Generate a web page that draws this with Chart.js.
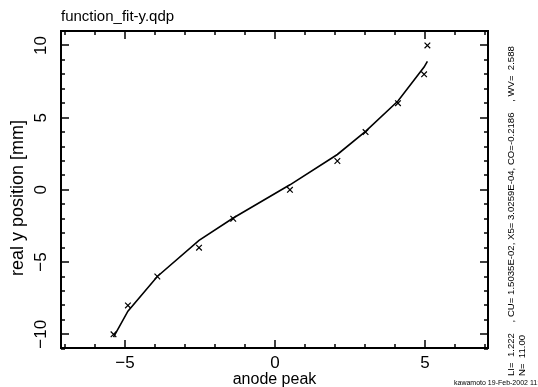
<!DOCTYPE html>
<html>
<head>
<meta charset="utf-8">
<script src="https://cdn.jsdelivr.net/npm/chart.js@4"></script>
<style>
  html, body { margin: 0; padding: 0; background: #fff; }
  #wrap { width: 538px; height: 387px; position: relative; }
</style>
</head>
<body>
<div id="wrap"><canvas id="fitChart"></canvas></div>
<script>
// measured points (x = anode peak, y = real y position)
const anodePeak = [-5.38, -4.9, -3.92, -2.53, -1.39, 0.5, 2.08, 3.02, 4.1, 4.97, 5.08];
const realY = [-10, -8, -6, -4, -2, 0, 2, 4, 6, 8, 10];
// fitted model at the same x values
const modelY = [-10.2, -8.4, -6.0, -3.5, -1.95, 0.35, 2.45, 4.05, 6.15, 8.5, 8.9];

const xMajor = [-5, 0, 5];
const yMajor = [-10, -5, 0, 5, 10];
const xMinor = [-7, -6, -4, -3, -2, -1, 1, 2, 3, 4, 6, 7];
const yMinor = [-11, -9, -8, -7, -6, -4, -3, -2, -1, 1, 2, 3, 4, 6, 7, 8, 9, 11];

const titleText = 'function_fit-y.qdp';
const xTitle = 'anode peak';
const yTitle = 'real y position [mm]';
const fitText = 'LI=  1.222    , CU= 1.5035E-02, X5= 3.0259E-04, CO=-0.2186    , WV=  2.588';
const nText = 'N=  11.00';
const stampText = 'kawamoto 19-Feb-2002 11:3';

const FONT = '"Liberation Sans", "DejaVu Sans", sans-serif';

const qdpFrame = {
    id: 'qdpFrame',
    afterDatasetsDraw(chart) {
        const { ctx, chartArea: a, scales } = chart;
        const xs = scales.x, ys = scales.y;
        ctx.save();
        ctx.strokeStyle = '#000';
        ctx.fillStyle = '#000';

        // frame
        ctx.lineWidth = 2;
        ctx.strokeRect(a.left, a.top, a.right - a.left, a.bottom - a.top);

        // ticks, inward on all sides
        ctx.lineWidth = 1.5;
        const tickX = (vals, len) => vals.forEach(v => {
            const px = Math.round(xs.getPixelForValue(v));
            ctx.beginPath();
            ctx.moveTo(px, a.bottom); ctx.lineTo(px, a.bottom - len);
            ctx.moveTo(px, a.top); ctx.lineTo(px, a.top + len);
            ctx.stroke();
        });
        const tickY = (vals, len) => vals.forEach(v => {
            const py = Math.round(ys.getPixelForValue(v));
            ctx.beginPath();
            ctx.moveTo(a.left, py); ctx.lineTo(a.left + len, py);
            ctx.moveTo(a.right, py); ctx.lineTo(a.right - len, py);
            ctx.stroke();
        });
        tickX(xMajor, 8); tickX(xMinor, 4);
        tickY(yMajor, 8); tickY(yMinor, 4);

        // x tick labels
        ctx.font = '17px ' + FONT;
        ctx.textAlign = 'center';
        ctx.textBaseline = 'middle';
        xMajor.forEach(v => {
            const lbl = v < 0 ? '\u2212' + Math.abs(v) : String(v);
            ctx.fillText(lbl, xs.getPixelForValue(v), 363);
        });
        ctx.font = '16px ' + FONT;
        ctx.fillText(xTitle, (a.left + a.right) / 2, 380);

        // y tick labels, rotated
        ctx.font = '17px ' + FONT;
        yMajor.forEach(v => {
            const lbl = v < 0 ? '\u2212' + Math.abs(v) : String(v);
            ctx.save();
            ctx.translate(41, ys.getPixelForValue(v));
            ctx.rotate(-Math.PI / 2);
            ctx.fillText(lbl, 0, 0);
            ctx.restore();
        });
        ctx.font = '18px ' + FONT;
        ctx.save();
        ctx.translate(18, 198);
        ctx.rotate(-Math.PI / 2);
        ctx.fillText(yTitle, 0, 0);
        ctx.restore();

        // title
        ctx.font = '15px ' + FONT;
        ctx.textAlign = 'left';
        ctx.fillText(titleText, a.left, 17);

        // fit parameters on the right
        ctx.font = '9.6px ' + FONT;
        ctx.save();
        ctx.translate(511, 376);
        ctx.rotate(-Math.PI / 2);
        ctx.fillText(fitText, 0, 0);
        ctx.restore();
        ctx.save();
        ctx.translate(522, 376);
        ctx.rotate(-Math.PI / 2);
        ctx.fillText(nText, 0, 0);
        ctx.restore();

        ctx.font = '7px ' + FONT;
        ctx.fillText(stampText, 454, 383);
        ctx.restore();
    }
};

new Chart(document.getElementById('fitChart'), {
    type: 'scatter',
    data: {
        datasets: [{
            label: 'data',
            data: anodePeak.map((x, i) => ({ x: x, y: realY[i] })),
            pointStyle: 'crossRot',
            pointRadius: 4,
            pointBorderWidth: 1.2,
            borderColor: '#000',
            backgroundColor: '#000',
            showLine: false
        }, {
            label: 'model',
            data: anodePeak.map((x, i) => ({ x: x, y: modelY[i] })),
            showLine: true,
            pointRadius: 0,
            borderColor: '#000',
            borderWidth: 1.6,
            tension: 0
        }]
    },
    options: {
        responsive: true,
        maintainAspectRatio: false,
        animation: false,
        layout: { padding: { left: 61, right: 50, top: 31, bottom: 39 } },
        plugins: {
            legend: { display: false },
            tooltip: { enabled: false }
        },
        scales: {
            x: { type: 'linear', min: -7.13, max: 7.1, display: false },
            y: { type: 'linear', min: -10.95, max: 11.0, display: false }
        }
    },
    plugins: [qdpFrame]
});
</script>
</body>
</html>
